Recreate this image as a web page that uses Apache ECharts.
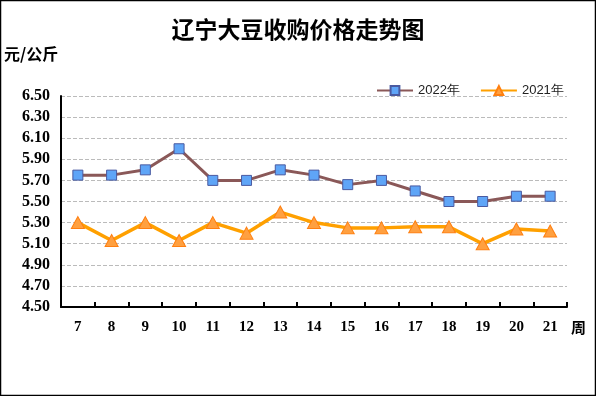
<!DOCTYPE html>
<html>
<head>
<meta charset="utf-8">
<script src="https://cdn.jsdelivr.net/npm/echarts@6/dist/echarts.min.js"></script>
<style>
  html, body { margin: 0; padding: 0; background: #fff; }
  #charts { width: 596px; height: 396px; }
</style>
</head>
<body>
<div id="charts"></div>
<script>
// 周次
var weeks = ['7', '8', '9', '10', '11', '12', '13', '14', '15', '16', '17', '18', '19', '20', '21'];
// 2022年 价格 (元/公斤)
var price2022 = [5.75, 5.75, 5.80, 6.00, 5.70, 5.70, 5.80, 5.75, 5.66, 5.70, 5.60, 5.50, 5.50, 5.55, 5.55];
// 2021年 价格 (元/公斤)
var price2021 = [5.30, 5.13, 5.30, 5.13, 5.30, 5.20, 5.40, 5.30, 5.25, 5.25, 5.26, 5.26, 5.10, 5.24, 5.22];
var yMin = 4.5, yMax = 6.5, yStep = 0.2;

var numFont = '"Liberation Serif", "DejaVu Serif", serif';
var cjkFont = '"Noto Sans CJK SC", sans-serif';

var chart = echarts.init(document.getElementById('charts'), null, { renderer: 'canvas' });
chart.setOption({
    backgroundColor: '#fff',
    animation: false,
    title: {
        text: '辽宁大豆收购价格走势图',
        left: 'center',
        top: 13,
        textStyle: {
            fontFamily: cjkFont,
            fontWeight: 'bold',
            fontSize: 23,
            color: '#000'
        }
    },
    graphic: [{
        type: 'rect',
        shape: { x: 0.5, y: 0.5, width: 595, height: 395 },
        style: { fill: 'none', stroke: '#000', lineWidth: 1.5 },
        silent: true
    }, {
        type: 'text',
        left: 4,
        top: 46,
        style: {
            text: '元/公斤',
            font: 'bold 16px ' + cjkFont,
            fill: '#000'
        }
    }, {
        type: 'text',
        left: 571,
        top: 320,
        style: {
            text: '周',
            font: 'bold 15px ' + cjkFont,
            fill: '#000'
        }
    }],
    legend: {
        left: 371,
        top: 79,
        itemWidth: 36,
        itemHeight: 11,
        itemGap: 20,
        textStyle: {
            fontFamily: '"Liberation Sans", sans-serif',
            fontSize: 13,
            color: '#222'
        },
        data: ['2022年', '2021年']
    },
    grid: {
        left: 61,
        right: 29,
        top: 96,
        bottom: 89,
        containLabel: false
    },
    xAxis: {
        type: 'category',
        boundaryGap: true,
        data: weeks,
        axisLine: { lineStyle: { color: '#000', width: 2 } },
        axisTick: { show: true, inside: true, length: 5, lineStyle: { color: '#000', width: 2 } },
        axisLabel: {
            margin: 13,
            fontFamily: numFont,
            fontWeight: 'bold',
            fontSize: 15,
            color: '#000'
        }
    },
    yAxis: {
        type: 'value',
        min: yMin,
        max: yMax,
        interval: yStep,
        axisLine: { show: true, lineStyle: { color: '#000', width: 2 } },
        axisTick: { show: false },
        axisLabel: {
            margin: 11,
            fontFamily: numFont,
            fontWeight: 'bold',
            fontSize: 16,
            color: '#000',
            formatter: function (v) { return v.toFixed(2); }
        },
        splitLine: { lineStyle: { color: '#bbb', type: 'dashed', width: 1 } }
    },
    series: [{
        name: '2022年',
        type: 'line',
        data: price2022,
        symbol: 'rect',
        symbolSize: 10,
        lineStyle: { color: '#8a5858', width: 3 },
        itemStyle: { color: '#5fa5f7', borderColor: '#4a5aa0', borderWidth: 1 },
        z: 3
    }, {
        name: '2021年',
        type: 'line',
        data: price2021,
        symbol: 'triangle',
        symbolSize: [13, 12],
        lineStyle: { color: '#ffa000', width: 3.5 },
        itemStyle: { color: '#ffa040', borderColor: '#ff7f10', borderWidth: 1 },
        z: 2
    }]
});
</script>
</body>
</html>
